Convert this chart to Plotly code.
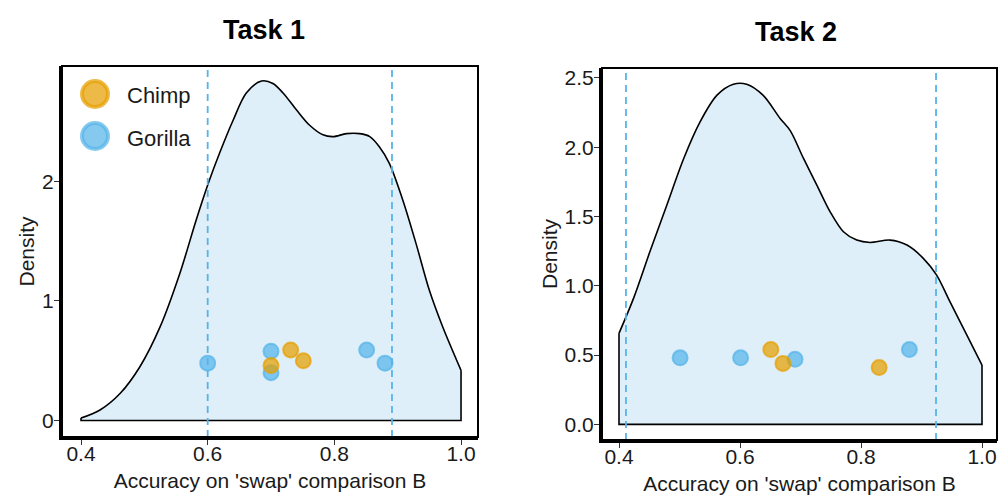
import plotly.graph_objects as go

# ---------------- data ----------------
task1_x = [0.400, 0.430, 0.462, 0.493, 0.525, 0.556, 0.582, 0.601, 0.619, 0.640, 0.661, 0.685, 0.703,
           0.719, 0.740, 0.761, 0.782, 0.798, 0.819, 0.840, 0.856, 0.871, 0.887, 0.908, 0.929, 0.950,
           0.971, 1.000]
task1_density = [0.02, 0.088, 0.228, 0.45, 0.785, 1.23, 1.68, 1.985, 2.24, 2.51, 2.74, 2.84, 2.82,
                 2.74, 2.60, 2.47, 2.39, 2.375, 2.40, 2.40, 2.375, 2.29, 2.15, 1.845, 1.48, 1.09,
                 0.785, 0.42]

task2_x = [0.400, 0.424, 0.451, 0.479, 0.507, 0.534, 0.562, 0.589, 0.611, 0.638, 0.666, 0.683, 0.705,
           0.727, 0.749, 0.771, 0.793, 0.815, 0.848, 0.876, 0.903, 0.925, 0.947, 0.975, 1.000]
task2_density = [0.657, 0.909, 1.245, 1.582, 1.919, 2.183, 2.376, 2.455, 2.455, 2.376, 2.21, 2.12, 1.919,
                 1.727, 1.534, 1.39, 1.33, 1.313, 1.33, 1.294, 1.198, 1.077, 0.885, 0.644, 0.428]

task1_chimp_x = [0.700, 0.731, 0.751]
task1_chimp_y = [0.46, 0.59, 0.50]
task1_gorilla_x = [0.600, 0.700, 0.700, 0.851, 0.880]
task1_gorilla_y = [0.48, 0.58, 0.40, 0.59, 0.48]

task2_chimp_x = [0.651, 0.671, 0.830]
task2_chimp_y = [0.54, 0.44, 0.41]
task2_gorilla_x = [0.501, 0.601, 0.691, 0.880]
task2_gorilla_y = [0.48, 0.48, 0.47, 0.54]

task1_cutoffs = [0.600, 0.891]
task2_cutoffs = [0.4115, 0.924]

panel_titles = ["Task 1", "Task 2"]
legend_labels = ["Chimp", "Gorilla"]
x_title = "Accuracy on 'swap' comparison B"
y_title = "Density"
task1_yticks = [0, 1, 2]
task2_yticks = [0.0, 0.5, 1.0, 1.5, 2.0, 2.5]
xticks = [0.4, 0.6, 0.8, 1.0]

# ---------------- style ----------------
W, H = 999, 499
FONT = "Liberation Sans, Arial, Helvetica, sans-serif"
CHIMP = "rgba(230,159,0,0.72)"
GORILLA = "rgba(86,180,233,0.72)"
FILL = "rgb(222,239,249)"
DASH_COLOR = "#56B4E9"
TXT = "#1a1a1a"

def px_x(p):
    return p / W

def px_y(p):
    return 1 - p / H

fig = go.Figure()

panels = [
    dict(xs=task1_x, ds=task1_density, cx=task1_chimp_x, cy=task1_chimp_y, gx=task1_gorilla_x,
         gy=task1_gorilla_y, cut=task1_cutoffs, xa="x", ya="y",
         xrange=[0.370, 1.0268], yrange=[-0.138, 2.966], yticks=task1_yticks, ytext=[str(v) for v in task1_yticks],
         xdom=[px_x(62), px_x(478)], ydom=[px_y(437), px_y(66)]),
    dict(xs=task2_x, ds=task2_density, cx=task2_chimp_x, cy=task2_chimp_y, gx=task2_gorilla_x,
         gy=task2_gorilla_y, cut=task2_cutoffs, xa="x2", ya="y2",
         xrange=[0.3719, 1.0248], yrange=[-0.113, 2.572], yticks=task2_yticks, ytext=[f"{v:.1f}" for v in task2_yticks],
         xdom=[px_x(602), px_x(997)], ydom=[px_y(440), px_y(68)]),
]

for p in panels:
    # density fill + curve
    fig.add_trace(go.Scatter(x=p["xs"], y=p["ds"], mode="lines", fill="tozeroy", fillcolor=FILL,
                             line=dict(color="black", width=1.6, shape="spline", smoothing=0.9),
                             xaxis=p["xa"], yaxis=p["ya"], showlegend=False, hoverinfo="skip"))
    # vertical edges and baseline of the density polygon
    fig.add_trace(go.Scatter(x=[p["xs"][0], p["xs"][0], p["xs"][-1], p["xs"][-1]],
                             y=[p["ds"][0], 0, 0, p["ds"][-1]], mode="lines",
                             line=dict(color="black", width=1.6),
                             xaxis=p["xa"], yaxis=p["ya"], showlegend=False, hoverinfo="skip"))
    # dashed cutoff lines
    for c in p["cut"]:
        fig.add_trace(go.Scatter(x=[c, c], y=p["yrange"], mode="lines",
                                 line=dict(color=DASH_COLOR, width=1.8, dash="7px,5px"),
                                 xaxis=p["xa"], yaxis=p["ya"], showlegend=False, hoverinfo="skip"))
    # points
    fig.add_trace(go.Scatter(x=p["gx"], y=p["gy"], mode="markers", name="Gorilla",
                             marker=dict(size=15, color=GORILLA, line=dict(color=GORILLA, width=2)),
                             xaxis=p["xa"], yaxis=p["ya"], showlegend=False))
    fig.add_trace(go.Scatter(x=p["cx"], y=p["cy"], mode="markers", name="Chimp",
                             marker=dict(size=15, color=CHIMP, line=dict(color=CHIMP, width=2)),
                             xaxis=p["xa"], yaxis=p["ya"], showlegend=False))

axis_common = dict(showgrid=False, zeroline=False, ticks="outside", ticklen=5, tickwidth=1.2,
                   tickcolor="#333", showline=True, linecolor="black", linewidth=3.2, automargin=False,
                   tickfont=dict(family=FONT, size=21, color=TXT),
                   title_font=dict(family=FONT, size=21, color=TXT))

layout = dict(width=W, height=H, margin=dict(l=0, r=0, t=0, b=0, autoexpand=False),
              paper_bgcolor="white", plot_bgcolor="white", showlegend=False,
              font=dict(family=FONT, color=TXT))
for i, p in enumerate(panels):
    suf = "" if i == 0 else "2"
    layout["xaxis" + suf] = dict(axis_common, domain=p["xdom"], range=p["xrange"], tickvals=xticks,
                                 ticktext=["0.4", "0.6", "0.8", "1.0"], anchor="y" + suf,
                                 ticklabelstandoff=-9,
                                 title=dict(text=x_title, standoff=10))
    layout["yaxis" + suf] = dict(axis_common, domain=p["ydom"], range=p["yrange"], tickvals=p["yticks"],
                                 ticktext=p["ytext"], anchor="x" + suf,
                                 ticklabelstandoff=-4,
                                 title=dict(text=y_title, standoff=2))
fig.update_layout(**layout)

# thin full border around each panel
for i, p in enumerate(panels):
    suf = "" if i == 0 else "2"
    fig.add_shape(type="rect", xref="x" + suf + " domain", yref="y" + suf + " domain",
                  x0=0, x1=1, y0=0, y1=1, line=dict(color="black", width=2), layer="above")

# titles
fig.add_annotation(text="<b>" + panel_titles[0] + "</b>", x=px_x(264), y=px_y(30), xref="paper", yref="paper",
                   xanchor="center", yanchor="middle",
                   showarrow=False, font=dict(family=FONT, size=27, color="black"))
fig.add_annotation(text="<b>" + panel_titles[1] + "</b>", x=px_x(796), y=px_y(32), xref="paper", yref="paper",
                   xanchor="center", yanchor="middle",
                   showarrow=False, font=dict(family=FONT, size=27, color="black"))

# manual legend (inside panel 1)
legend_items = [(legend_labels[0], CHIMP, 94), (legend_labels[1], GORILLA, 136)]
r = 13
for label, col, cy in legend_items:
    fig.add_shape(type="circle", xref="paper", yref="paper",
                  x0=px_x(95 - r), x1=px_x(95 + r), y0=px_y(cy + r), y1=px_y(cy - r),
                  fillcolor=col, line=dict(color=col, width=4), layer="above")
    fig.add_annotation(text=label, x=px_x(125), y=px_y(cy + 2), xref="paper", yref="paper",
                       xanchor="left", yanchor="middle", showarrow=False,
                       font=dict(family=FONT, size=22, color=TXT))

fig.write_html("out.html", config={"displayModeBar": False},
               post_script="document.body.style.margin='0px';")
